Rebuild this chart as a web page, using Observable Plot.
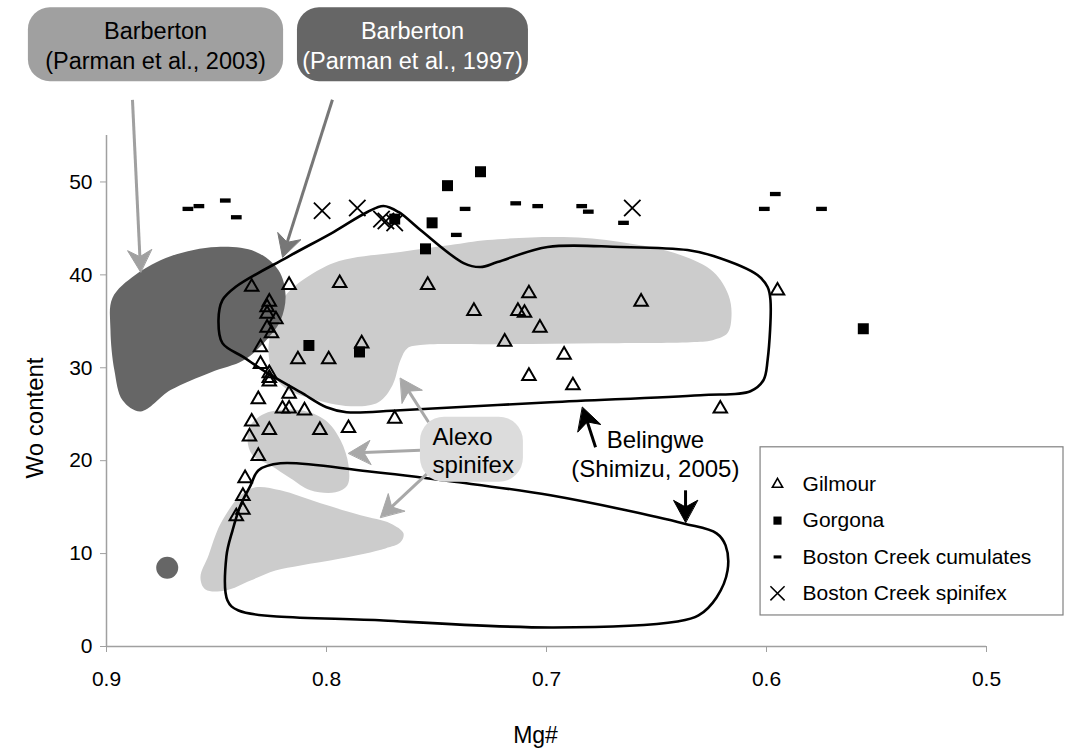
<!DOCTYPE html>
<html>
<head>
<meta charset="utf-8">
<script src="https://cdn.jsdelivr.net/npm/d3@7"></script>
<script src="https://cdn.jsdelivr.net/npm/@observablehq/plot@0.6"></script>
<style>
  html, body { margin: 0; padding: 0; background: #fff; }
</style>
</head>
<body>
<div id="chart"></div>
<script>
// ---- Pyroxene analyses: [Mg#, Wo content] ----
const gilmour = [
  [0.834, 38.7], [0.817, 38.9], [0.794, 39.1], [0.754, 38.9], [0.826, 37.1], [0.827, 36.5],
  [0.827, 35.8], [0.823, 35.2], [0.827, 34.3], [0.825, 33.7], [0.830, 32.2], [0.784, 32.6],
  [0.813, 30.9], [0.799, 30.9], [0.830, 30.4], [0.826, 29.4], [0.826, 28.9], [0.826, 28.5],
  [0.817, 27.2], [0.831, 26.6], [0.820, 25.6], [0.817, 25.6], [0.810, 25.4], [0.834, 24.2],
  [0.826, 23.3], [0.803, 23.3], [0.790, 23.5], [0.769, 24.5], [0.835, 22.6], [0.831, 20.5],
  [0.837, 18.1], [0.838, 16.2], [0.838, 14.7], [0.841, 14.0], [0.733, 36.1], [0.708, 38.0],
  [0.713, 36.1], [0.710, 35.9], [0.703, 34.3], [0.719, 32.8], [0.692, 31.4], [0.708, 29.1],
  [0.688, 28.1], [0.657, 37.1], [0.595, 38.3], [0.621, 25.6]
];
const gorgona = [
  [0.730, 51.1], [0.745, 49.6], [0.752, 45.6], [0.755, 42.8], [0.556, 34.2],
  [0.785, 31.7], [0.808, 32.4], [0.769, 46.0]
];
const bostonCumulates = [
  [0.863, 47.1], [0.858, 47.4], [0.846, 48.0], [0.841, 46.2], [0.737, 47.1], [0.741, 44.3],
  [0.714, 47.7], [0.704, 47.4], [0.684, 47.4], [0.681, 46.8], [0.665, 45.6], [0.596, 48.7],
  [0.601, 47.1], [0.575, 47.1]
];
const bostonSpinifex = [
  [0.802, 46.9], [0.786, 47.2], [0.775, 46.0], [0.773, 45.8], [0.769, 45.6], [0.661, 47.2]
];

// ---- Compositional fields (outlines in Mg# / Wo space) ----
const barbertonField = [
  [0.8973, 37.5], [0.8868, 40.0], [0.8709, 42.0], [0.8500, 43.0], [0.8323, 42.5], [0.8218, 40.5],
  [0.8186, 37.8], [0.8209, 35.1], [0.8273, 33.0], [0.8377, 30.8], [0.8527, 29.5], [0.8709, 27.6],
  [0.8845, 25.3], [0.8927, 26.5], [0.8964, 29.7], [0.8982, 34.1]
];
const barbertonSpot = [[0.8724, 8.48]];
const alexoUpper = [
  [0.8177, 38.04], [0.7968, 41.27], [0.7664, 42.46], [0.7436, 43.21], [0.7268, 43.75], [0.6923, 44.07],
  [0.6664, 43.53], [0.6391, 42.13], [0.6241, 40.30], [0.6173, 37.82], [0.6159, 35.67], [0.6177, 33.73],
  [0.6245, 32.97], [0.6345, 32.76], [0.6755, 32.65], [0.7209, 32.54], [0.7573, 32.44], [0.7632, 32.11],
  [0.7664, 30.82], [0.7700, 28.13], [0.7764, 26.29], [0.7891, 25.86], [0.8073, 26.72], [0.8186, 27.80],
  [0.8245, 29.53], [0.8264, 31.90], [0.8250, 34.05], [0.8218, 36.21]
];
const alexoMiddle = [
  [0.8345, 23.81], [0.8277, 25.11], [0.8118, 25.43], [0.8005, 24.35], [0.7936, 22.20], [0.7900, 19.50],
  [0.7905, 17.35], [0.7959, 16.59], [0.8073, 16.81], [0.8164, 18.10], [0.8255, 19.50], [0.8336, 20.58],
  [0.8359, 22.20]
];
const alexoLower = [
  [0.8473, 13.58], [0.8391, 16.27], [0.8323, 17.13], [0.8209, 16.81], [0.8027, 15.41], [0.7845, 14.12],
  [0.7709, 13.25], [0.7650, 12.18], [0.7664, 11.21], [0.7732, 10.56], [0.7936, 9.48], [0.8118, 8.73],
  [0.8232, 8.19], [0.8345, 7.11], [0.8459, 6.03], [0.8550, 6.14], [0.8573, 7.44], [0.8536, 9.81],
  [0.8505, 11.96]
];
const belingweUpper = [
  [0.8491, 35.13], [0.8473, 37.28], [0.8414, 38.69], [0.8177, 41.92], [0.7968, 44.61], [0.7814, 46.77],
  [0.7741, 47.41], [0.7673, 46.77], [0.7573, 44.83], [0.7377, 41.27], [0.7300, 40.84], [0.7223, 41.38],
  [0.6995, 43.00], [0.6664, 43.00], [0.6359, 42.67], [0.6241, 42.03], [0.6041, 39.98], [0.5995, 38.69],
  [0.5982, 37.28], [0.5995, 30.82], [0.6014, 28.66], [0.6073, 27.48], [0.6300, 27.05], [0.6982, 26.29],
  [0.7664, 25.43], [0.7909, 25.22], [0.8000, 25.75], [0.8118, 27.37], [0.8268, 29.42], [0.8377, 31.14],
  [0.8473, 32.65]
];
const belingweLower = [
  [0.8309, 18.97], [0.8209, 19.72], [0.7814, 18.86], [0.7436, 17.78], [0.6982, 16.27], [0.6377, 13.25],
  [0.6227, 12.18], [0.6186, 10.88], [0.6177, 8.19], [0.6227, 5.28], [0.6309, 3.34], [0.6405, 2.69],
  [0.6968, 2.05], [0.7741, 2.80], [0.8400, 3.88], [0.8450, 4.96], [0.8455, 9.70], [0.8427, 12.50],
  [0.8391, 15.19], [0.8345, 17.35]
];

// ---- Axis ticks ----
const xTicks = [0.9, 0.8, 0.7, 0.6, 0.5];
const yTicks = [0, 10, 20, 30, 40, 50];

// ---- Legend entries ----
const legendLabels = ["Gilmour", "Gorgona", "Boston Creek cumulates", "Boston Creek spinifex"];

// ---- Layout ----
const W = 1077, H = 756;
const margin = {top: 135, right: 91, bottom: 110, left: 106};
const xDomain = [0.9, 0.5], yDomain = [0, 55];
const xs = d3.scaleLinear(xDomain, [margin.left, W - margin.right]);
const ys = d3.scaleLinear(yDomain, [H - margin.bottom, margin.top]);

// ---- Annotations (placed in Mg# / Wo units) ----
const barbertonBoxes = [
  {x1: 0.9355, x2: 0.8195, y1: 60.78, y2: 68.75, fill: "#a0a0a0", ink: "black", cx: 0.8777,
   lines: ["Barberton", "(Parman et al., 2003)"]},
  {x1: 0.8132, x2: 0.7082, y1: 60.78, y2: 68.75, fill: "#666666", ink: "white", cx: 0.7609,
   lines: ["Barberton", "(Parman et al., 1997)"]}
];
const boxLineY = [66.2, 63.0];
const alexoBox = {x1: 0.7573, x2: 0.7105, y1: 17.67, y2: 24.68};
const alexoText = [{x: 0.7518, y: 22.5, t: "Alexo"}, {x: 0.7518, y: 19.5, t: "spinifex"}];
const belingweText = [{x: 0.6505, y: 22.2, t: "Belingwe"}, {x: 0.6505, y: 19.1, t: "(Shimizu, 2005)"}];

const barbertonArrowLight = [{from: [0.8882, 58.84], to: [0.8845, 40.30]}];
const barbertonArrowDark = [{from: [0.7973, 58.84], to: [0.8200, 41.92]}];
const alexoArrows = [
  {from: [0.7536, 24.14], to: [0.7664, 28.88]},
  {from: [0.7573, 21.12], to: [0.7900, 20.80]},
  {from: [0.7541, 18.64], to: [0.7755, 13.90]}
];
const belingweArrows = [
  {from: [0.6777, 21.44], to: [0.6836, 25.75]},
  {from: [0.6368, 16.81], to: [0.6368, 13.36]}
];

// Build a shaft and a notched arrowhead, sized in screen pixels.
function buildArrows(list, len = 22, wid = 24) {
  const shafts = [], heads = [];
  list.forEach((a, i) => {
    const x1 = xs(a.from[0]), y1 = ys(a.from[1]), x2 = xs(a.to[0]), y2 = ys(a.to[1]);
    const L = Math.hypot(x2 - x1, y2 - y1), ux = (x2 - x1) / L, uy = (y2 - y1) / L;
    const nx = -uy, ny = ux;
    const bx = x2 - ux * len, by = y2 - uy * len;
    const mx = x2 - ux * len * 0.7, my = y2 - uy * len * 0.7;
    const pts = [[x2, y2], [bx + nx * wid / 2, by + ny * wid / 2], [mx, my], [bx - nx * wid / 2, by - ny * wid / 2]];
    pts.forEach(([px, py]) => heads.push({id: i, x: xs.invert(px), y: ys.invert(py)}));
    shafts.push({x1: a.from[0], y1: a.from[1], x2: xs.invert(mx), y2: ys.invert(my)});
  });
  return {shafts, heads};
}
function arrowMarks(list, color) {
  const {shafts, heads} = buildArrows(list);
  return [
    Plot.link(shafts, {x1: "x1", y1: "y1", x2: "x2", y2: "y2", stroke: color, strokeWidth: 3}),
    Plot.line(heads, {x: "x", y: "y", z: "id", fill: color, stroke: color, strokeWidth: 1, curve: "linear-closed"})
  ];
}

// Short horizontal bar marker for the cumulate samples.
const dash = {
  draw(context, size) {
    const s = Math.sqrt(size);
    context.rect(-s * 0.55, -s * 0.22, s * 1.1, s * 0.44);
  }
};

const px = d => d[0], py = d => d[1];
const field = (pts, fill) => Plot.line(pts, {x: px, y: py, fill, stroke: "none", curve: "catmull-rom-closed"});
const outline = pts => Plot.line(pts, {x: px, y: py, stroke: "black", strokeWidth: 2.6, fill: "none", curve: "catmull-rom-closed"});

// Legend rows, stacked downward from the top entry.
const legendX = {box1: 0.6027, box2: 0.465, sym: 0.5950, text: 0.5836};
const legendTopY = 17.46, legendStep = 3.91;
const legendRows = legendLabels.map((label, i) => ({label, y: legendTopY - i * legendStep}));

const font = "'Liberation Sans', Arial, Helvetica, sans-serif";

const chart = Plot.plot({
  width: W,
  height: H,
  marginTop: margin.top,
  marginRight: margin.right,
  marginBottom: margin.bottom,
  marginLeft: margin.left,
  x: {domain: xDomain},
  y: {domain: yDomain},
  style: {fontFamily: font, fontSize: "21px", color: "black", background: "white"},
  marks: [
    // shaded fields
    field(alexoUpper, "#cccccc"),
    field(alexoMiddle, "#cccccc"),
    field(alexoLower, "#cccccc"),
    field(barbertonField, "#666666"),
    Plot.dot(barbertonSpot, {x: px, y: py, r: 11, fill: "#666666"}),
    outline(belingweUpper),
    outline(belingweLower),

    // axes
    Plot.ruleY([0], {stroke: "#a0a0a0", strokeWidth: 1.5}),
    Plot.ruleX([0.9], {stroke: "#a0a0a0", strokeWidth: 1.5}),
    Plot.axisX(xTicks, {anchor: "bottom", tickSize: 6, tickPadding: 19, tickFormat: d3.format(".1f"),
      fontSize: 21, stroke: "#a0a0a0", fill: "black", label: null}),
    Plot.axisY(yTicks, {anchor: "left", tickSize: 6, tickPadding: 8,
      fontSize: 21, stroke: "#a0a0a0", fill: "black", label: null}),
    Plot.text(["Mg#"], {x: 0.705, y: -9.6, fontSize: 23, fill: "black"}),
    Plot.text(["Wo content"], {x: 0.9323, y: 24.6, rotate: -90, fontSize: 24, fill: "black"}),

    // arrows
    ...arrowMarks(barbertonArrowLight, "#a0a0a0"),
    ...arrowMarks(barbertonArrowDark, "#777777"),
    ...arrowMarks(alexoArrows, "#a8a8a8"),
    ...arrowMarks(belingweArrows, "black"),

    // labels
    Plot.rect(barbertonBoxes, {x1: "x1", x2: "x2", y1: "y1", y2: "y2", fill: d => d.fill, rx: 22}),
    ...barbertonBoxes.flatMap(b => b.lines.map((t, i) =>
      Plot.text([t], {x: b.cx, y: boxLineY[i], fill: b.ink, fontSize: 23.5}))),
    Plot.rect([alexoBox], {x1: "x1", x2: "x2", y1: "y1", y2: "y2", fill: "#dcdcdc", rx: 24}),
    Plot.text(alexoText, {x: "x", y: "y", text: "t", textAnchor: "start", fontSize: 24, fill: "black"}),
    Plot.text(belingweText, {x: "x", y: "y", text: "t", fontSize: 24, fill: "black"}),

    // samples
    Plot.dot(gilmour, {x: px, y: py, symbol: "triangle", r: 5, stroke: "black", strokeWidth: 2, fill: "none"}),
    Plot.dot(gorgona, {x: px, y: py, symbol: "square", r: 6.2, fill: "black"}),
    Plot.dot(bostonCumulates, {x: px, y: py, symbol: dash, r: 5.5, fill: "black"}),
    Plot.dot(bostonSpinifex, {x: px, y: py, symbol: "times", r: 7.5, stroke: "black", strokeWidth: 1.8, fill: "none"}),

    // legend
    Plot.rect([legendX], {x1: "box1", x2: "box2", y1: 3.34, y2: 21.44, fill: "white", stroke: "#808080", strokeWidth: 1.2}),
    Plot.dot([legendRows[0]], {x: legendX.sym, y: "y", symbol: "triangle", r: 3.8, stroke: "black", strokeWidth: 1.6, fill: "none"}),
    Plot.dot([legendRows[1]], {x: legendX.sym, y: "y", symbol: "square", r: 4.6, fill: "black"}),
    Plot.dot([legendRows[2]], {x: legendX.sym, y: "y", symbol: dash, r: 4, fill: "black"}),
    Plot.dot([legendRows[3]], {x: legendX.sym, y: "y", symbol: "times", r: 6.5, stroke: "black", strokeWidth: 1.5, fill: "none"}),
    Plot.text(legendRows, {x: legendX.text, y: "y", text: "label", textAnchor: "start", fontSize: 21,
      fill: "black", letterSpacing: "0.6px"})
  ]
});

document.getElementById("chart").appendChild(chart);
</script>
</body>
</html>
